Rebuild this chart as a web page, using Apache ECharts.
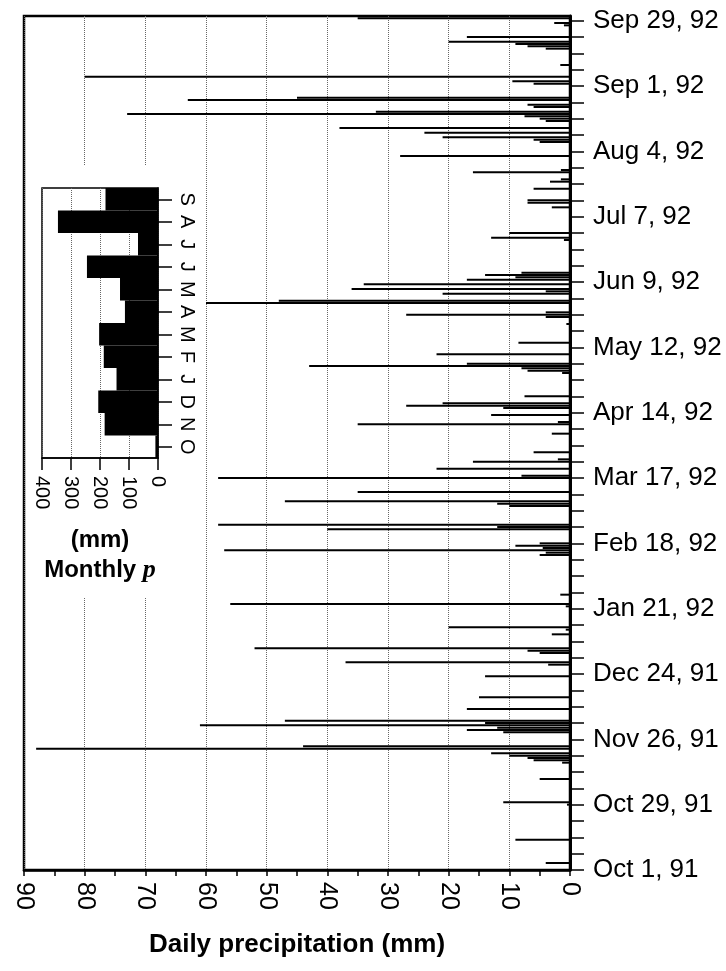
<!DOCTYPE html>
<html>
<head>
<meta charset="utf-8">
<script src="https://cdn.jsdelivr.net/npm/echarts@6/dist/echarts.min.js"></script>
<style>html,body{margin:0;padding:0;background:#fff}#c{width:726px;height:971px}</style>
</head>
<body>
<div id="c"></div>
<script>
// Date tick labels (every 28 days from Oct 1, 1991)
const dateLabels = ['Oct 1, 91','Oct 29, 91','Nov 26, 91','Dec 24, 91','Jan 21, 92','Feb 18, 92',
  'Mar 17, 92','Apr 14, 92','May 12, 92','Jun 9, 92','Jul 7, 92','Aug 4, 92','Sep 1, 92','Sep 29, 92'];
// Day offsets since Oct 1, 1991 of rain days, and daily precipitation (mm)
const rainDay = [3,13,28,29,39,46,47,48,49,50,52,53,59,60,61,62,63,64,69,74,83,88,89,93,94,95,101,103,104,
  113,114,118,135,136,137,138,139,140,146,147,148,156,157,158,162,168,169,172,175,176,179,187,191,192,195,
  198,199,200,203,213,214,215,216,217,221,226,234,237,238,239,243,244,247,248,249,251,253,254,255,256,
  270,271,273,284,286,287,292,295,296,299,300,306,312,313,314,316,318,321,322,323,324,325,327,328,330,331,
  337,338,340,345,352,353,354,355,357,362,363,365];
const rainMm = [4,9,0.5,11,5,1.3,6,7,10,13,88,44,11,17,12,61,14,47,17,15,14,3.6,37,5,7,52,3,0.7,20,
  0.7,56,1.6,5,4,57,4.5,9,5,40,12,58,10,12,47,35,58,8,22,16,2,6,3,35,2,13,
  11,27,21,7.5,1.3,7,8,43,17,22,8.5,0.6,4,27,4,60,48,21,4,36,34,17,9,14,8,
  1,13,10,3,7,7,6,3.3,1.5,16,1.5,28,5,6,21,24,38,4,5,7.5,73,32,6,7,63,45,
  6,9.5,80,1.6,4,7,9,20,17,1,2.6,35];
// Inset: monthly precipitation (mm), Oct 1991 .. Sep 1992
const months = ['Oct','Nov','Dec','Jan','Feb','Mar','Apr','May','Jun','Jul','Aug','Sep'];
const monthLetters = ['O','N','D','J','F','M','A','M','J','J','A','S'];
const monthlyMm = [9,184,206,143,187,203,114,131,245,69,345,181];

const nDays = 367;
const dayCats = Array.from({length: nDays}, (_, i) => String(i));
const FF = '"Liberation Sans", Arial, Helvetica, sans-serif';

const chart = echarts.init(document.getElementById('c'), null, {renderer: 'canvas'});
chart.setOption({
  animation: false,
  backgroundColor: '#fff',
  textStyle: {fontFamily: FF, color: '#000'},
  graphic: [{type: 'rect', silent: true, z: 1,
    shape: {x: 27, y: 165, width: 173, height: 433}, style: {fill: '#fff'}}],
  grid: [
    {left: 24, right: 156, top: 16, bottom: 101, show: true, borderColor: '#000', borderWidth: 2.5, z: 0},
    {left: 42, top: 188, width: 116, height: 270, show: true, backgroundColor: '#fff',
     borderColor: '#000', borderWidth: 1.5, z: 3}
  ],
  xAxis: [
    {type: 'value', gridIndex: 0, min: 0, max: 90, interval: 10, inverse: true,
     axisLine: {show: true, onZero: false, lineStyle: {color: '#000', width: 2.5}},
     axisTick: {show: true, length: 6, lineStyle: {color: '#000', width: 1.5}},
     minorTick: {show: true, splitNumber: 2, length: 6, lineStyle: {color: '#000', width: 1.5}},
     splitLine: {show: true, lineStyle: {color: '#666', type: 'dotted', width: 1}},
     axisLabel: {rotate: -90, fontSize: 25, color: '#000', margin: 12, fontFamily: FF},
     name: 'Daily precipitation (mm)', nameLocation: 'middle', nameGap: 62,
     nameTextStyle: {fontSize: 26, fontWeight: 'bold', color: '#000', fontFamily: FF}},
    {type: 'value', gridIndex: 1, min: 0, max: 400, interval: 100, inverse: true, z: 4,
     axisLine: {show: true, onZero: false, lineStyle: {color: '#000', width: 1.5}},
     axisTick: {show: true, length: 12, lineStyle: {color: '#000', width: 1.5}},
     splitLine: {show: true, lineStyle: {color: '#666', type: 'dotted', width: 1}},
     axisLabel: {rotate: -90, fontSize: 20, color: '#000', margin: 18, fontFamily: FF},
     name: '(mm)\nMonthly {i|p}', nameLocation: 'middle', nameGap: 67,
     nameTextStyle: {fontSize: 24, fontWeight: 'bold', color: '#000', fontFamily: FF, lineHeight: 30,
       rich: {i: {fontFamily: '"Liberation Serif", serif', fontStyle: 'italic', fontWeight: 'bold',
                  fontSize: 26, color: '#000', lineHeight: 30}}}}
  ],
  yAxis: [
    {type: 'category', gridIndex: 0, position: 'right', data: dayCats, boundaryGap: false,
     axisLine: {show: true, onZero: false, lineStyle: {color: '#000', width: 3}},
     axisTick: {show: true, interval: 6, length: 14, lineStyle: {color: '#000', width: 1.5}},
     axisLabel: {interval: 27, fontSize: 26, margin: 23, color: '#000', fontFamily: FF,
       formatter: (v, i) => (i % 28 === 0 ? dateLabels[i / 28] : '')},
     splitLine: {show: false}},
    {type: 'category', gridIndex: 1, position: 'right', data: months, z: 4,
     axisLine: {show: true, onZero: false, lineStyle: {color: '#000', width: 1.5}},
     axisTick: {show: true, alignWithLabel: true, length: 14, lineStyle: {color: '#000', width: 1.5}},
     axisLabel: {rotate: -90, fontSize: 20, margin: 19, color: '#000', fontFamily: FF,
       formatter: (v, i) => monthLetters[i]},
     splitLine: {show: false}}
  ],
  series: [
    {type: 'bar', xAxisIndex: 0, yAxisIndex: 0, barWidth: 2, z: 2,
     itemStyle: {color: '#000'},
     data: rainDay.map((d, i) => [rainMm[i], d])},
    {type: 'bar', xAxisIndex: 1, yAxisIndex: 1, barCategoryGap: '0%', z: 5,
     itemStyle: {color: '#000'}, data: monthlyMm}
  ]
});
</script>
</body>
</html>
